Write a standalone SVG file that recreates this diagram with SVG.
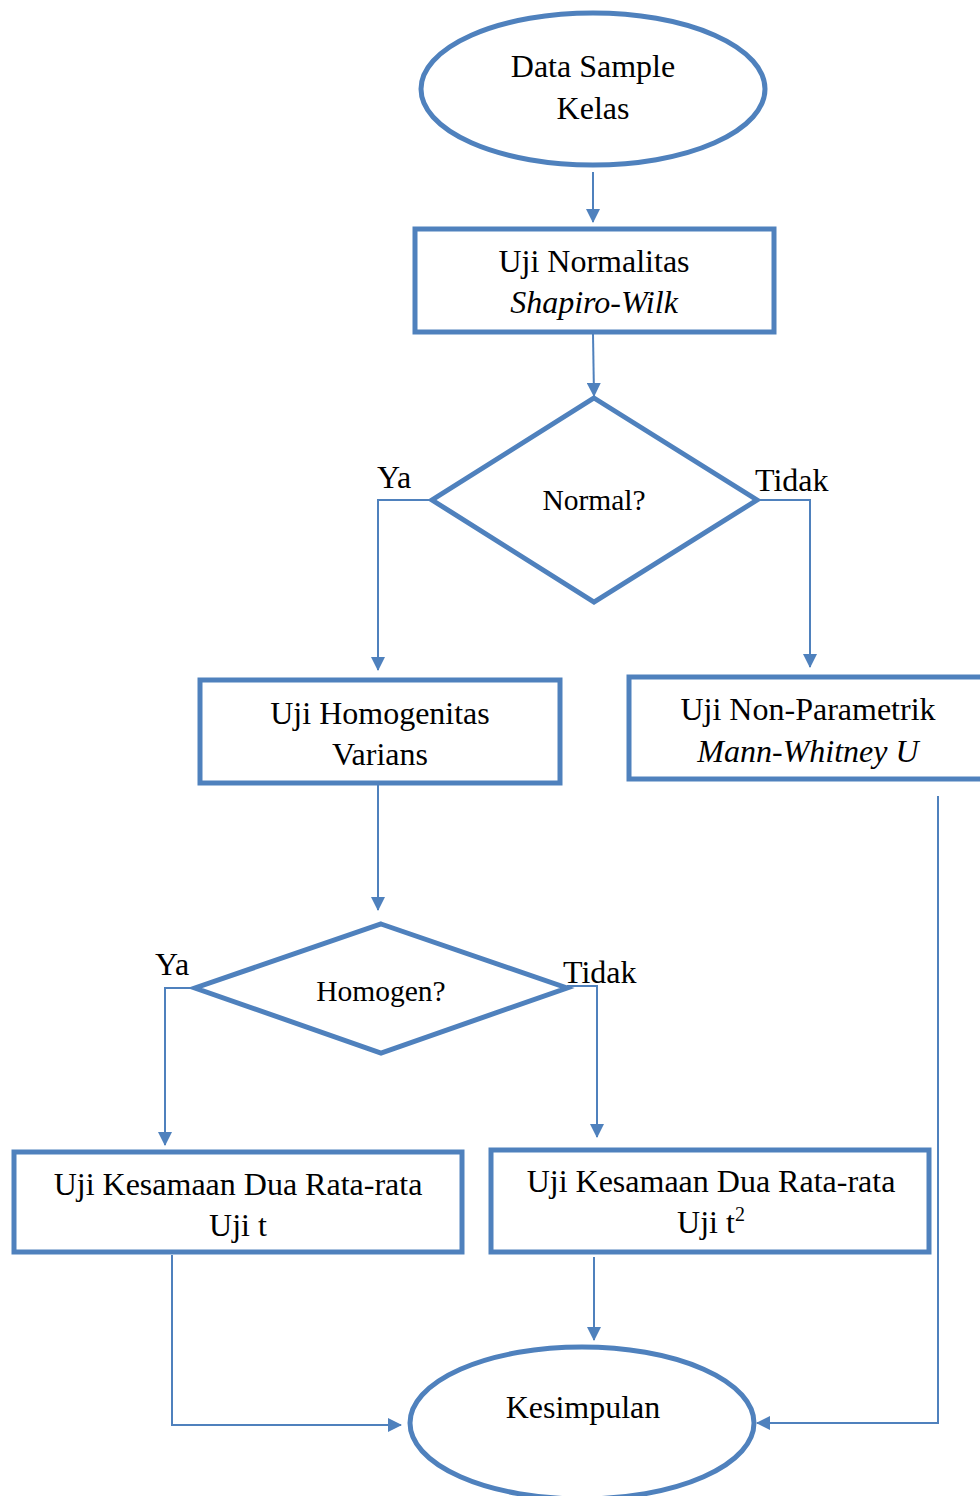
<svg xmlns="http://www.w3.org/2000/svg" width="980" height="1496" viewBox="0 0 980 1496">
<style>
.shape{fill:#fff;stroke:#4F81BD;stroke-width:5}
.conn{fill:none;stroke:#4F81BD;stroke-width:2}
text{font-family:"Liberation Serif","Times New Roman",serif;font-size:32px;fill:#000;text-anchor:middle}
.small{font-size:29.5px}
.it{font-style:italic}
.lbl{text-anchor:start}
</style>
<defs>
<marker id="ah" markerWidth="14" markerHeight="14" viewBox="0 0 14 14" refX="13" refY="7" orient="auto" markerUnits="userSpaceOnUse">
<path d="M0,0 L14,7 L0,14 Z" fill="#4F81BD"/>
</marker>
</defs>
<rect width="980" height="1496" fill="#fff"/>
<g id="connectors">
<line class="conn" x1="593" y1="172" x2="593" y2="222" marker-end="url(#ah)"/>
<line class="conn" x1="593" y1="334" x2="594" y2="396" marker-end="url(#ah)"/>
<polyline class="conn" points="432,500 378,500 378,670" marker-end="url(#ah)"/>
<polyline class="conn" points="757,500 810,500 810,667" marker-end="url(#ah)"/>
<line class="conn" x1="378" y1="785" x2="378" y2="910" marker-end="url(#ah)"/>
<polyline class="conn" points="195,988 165,988 165,1145" marker-end="url(#ah)"/>
<polyline class="conn" points="567,986 597,986 597,1137" marker-end="url(#ah)"/>
<polyline class="conn" points="172,1255 172,1425 401,1425" marker-end="url(#ah)"/>
<line class="conn" x1="594" y1="1257" x2="594" y2="1340" marker-end="url(#ah)"/>
<polyline class="conn" points="938,796 938,1423 757,1423" marker-end="url(#ah)"/>
</g>
<g id="start">
<ellipse class="shape" cx="593" cy="89" rx="172" ry="76"/>
<text x="593" y="77">Data Sample</text>
<text x="593" y="119">Kelas</text>
</g>
<g id="normalitas">
<rect class="shape" x="415" y="229" width="359" height="103"/>
<text x="594" y="272">Uji Normalitas</text>
<text x="594" y="313" class="it">Shapiro-Wilk</text>
</g>
<g id="normal">
<polygon class="shape" points="594,398 757,500 594,602 432,500"/>
<text x="594" y="510" class="small">Normal?</text>
<text x="377" y="488" class="lbl">Ya</text>
<text x="755" y="491" class="lbl">Tidak</text>
</g>
<g id="homogenitas">
<rect class="shape" x="200" y="680" width="360" height="103"/>
<text x="380" y="724">Uji Homogenitas</text>
<text x="380" y="765">Varians</text>
</g>
<g id="nonparametrik">
<rect class="shape" x="629" y="677" width="360" height="102"/>
<text x="808" y="720">Uji Non-Parametrik</text>
<text x="808" y="762" class="it">Mann-Whitney U</text>
</g>
<g id="homogen">
<polygon class="shape" points="381,924 567,988 381,1053 195,988"/>
<text x="381" y="1001" class="small">Homogen?</text>
<text x="155" y="975" class="lbl">Ya</text>
<text x="563" y="983" class="lbl">Tidak</text>
</g>
<g id="ujit">
<rect class="shape" x="14" y="1152" width="448" height="100"/>
<text x="238" y="1195">Uji Kesamaan Dua Rata-rata</text>
<text x="238" y="1236">Uji t</text>
</g>
<g id="ujit2">
<rect class="shape" x="491" y="1150" width="438" height="102"/>
<text x="711" y="1192">Uji Kesamaan Dua Rata-rata</text>
<text x="711" y="1233">Uji t<tspan font-size="20" dy="-12">2</tspan></text>
</g>
<g id="kesimpulan">
<ellipse class="shape" cx="582" cy="1423" rx="172" ry="76"/>
<text x="583" y="1418">Kesimpulan</text>
</g>
</svg>
